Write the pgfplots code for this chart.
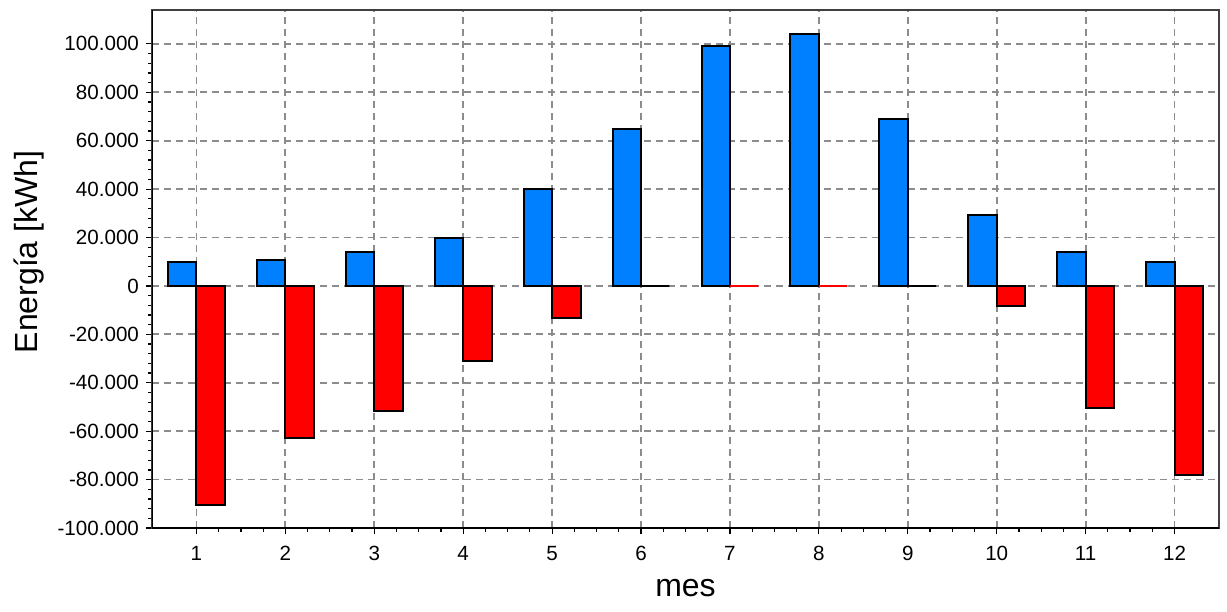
\documentclass[border=0pt]{standalone}
\usepackage{fontspec}
\setmainfont{Liberation Sans}
\usepackage{pgfplots}
\pgfplotsset{compat=1.18}
\definecolor{barblue}{RGB}{0,128,255}
\definecolor{barred}{RGB}{255,0,0}
\definecolor{gridgray}{RGB}{140,140,140}
\begin{document}
\begin{tikzpicture}
\begin{axis}[
  scale only axis, width=533.5pt, height=259pt,
  xmin=0.5, xmax=12.5, ymin=-100000, ymax=114000,
  xtick={1,...,12}, minor x tick num=3,
  ytick={-100000,-80000,-60000,-40000,-20000,0,20000,40000,60000,80000,100000},
  yticklabels={-100.000,-80.000,-60.000,-40.000,-20.000,0,20.000,40.000,60.000,80.000,100.000},
  minor y tick num=4,
  tick align=outside, xtick pos=bottom, ytick pos=left,
  major tick length=3pt, minor tick length=2pt,
  tick style={black, line width=0.6pt},
  grid=major,
  major grid style={gridgray, dash pattern=on 3.5pt off 2.5pt, line width=0.9pt},
  axis line style={black!75, line width=0.7pt},
  ticklabel style={font=\fontsize{10.3}{12}\selectfont},
  xticklabel style={yshift=-2.5pt},
  /pgf/number format/assume math mode=true,
  xlabel={mes}, ylabel={Energía [kWh]},
  label style={font=\fontsize{16}{19}\selectfont},
  xlabel style={at={(axis description cs:0.5,-0.115)}, anchor=center},
  ylabel style={at={(axis description cs:-0.115,0.533)}, anchor=center, rotate=0},
  scaled y ticks=false,
]
\addplot[ybar, bar width=0.32, bar shift=-0.16, fill=barblue, draw=black, line width=1pt]
  coordinates {(1,10000) (2,10900) (3,14100) (4,20000) (5,40000) (6,64900) (7,99300) (8,104200) (9,69000) (10,29500) (11,14000) (12,9800)};
\addplot[ybar, bar width=0.32, bar shift=0.16, fill=barred, draw=black, line width=1pt]
  coordinates {(1,-90500) (2,-62800) (3,-51800) (4,-31100) (5,-13100) (6,0) (9,0) (10,-8300) (11,-50500) (12,-78300)};
\addplot[ybar, bar width=0.32, bar shift=0.16, fill=barred, draw=barred, line width=1pt]
  coordinates {(7,0) (8,0)};
\draw[black, line width=1.5pt] (rel axis cs:0,1) -- (rel axis cs:0,0) -- (rel axis cs:1,0);
\end{axis}
\pgfresetboundingbox
\path (current axis.south west) ++(-76pt,-41.5pt) rectangle ++(613.5pt,305.5pt);
\end{tikzpicture}
\end{document}
